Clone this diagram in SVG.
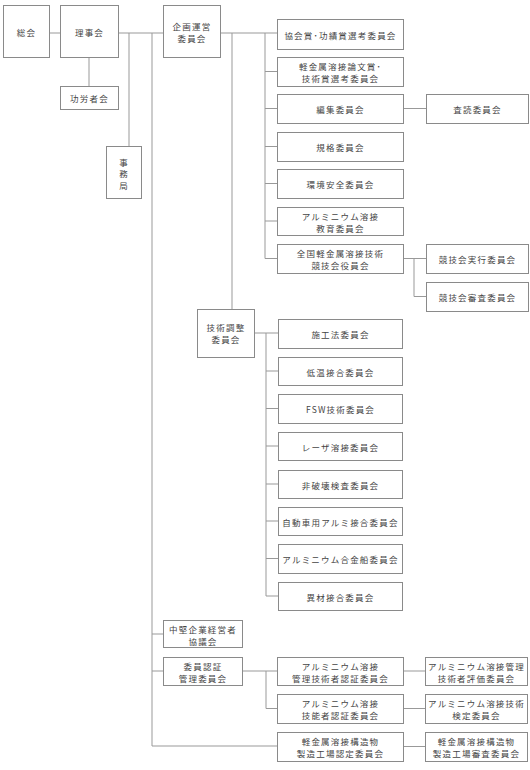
<svg xmlns="http://www.w3.org/2000/svg" width="530" height="770" viewBox="0 0 530 770">
<style>
.b{fill:#fff;stroke:#8a8a8a;stroke-width:1}
.t{font-family:"Noto Sans CJK JP","Noto Sans",sans-serif;font-size:8.5px;fill:#444;text-anchor:middle;dominant-baseline:central;letter-spacing:1.2px}
.c{fill:none;stroke:#999;stroke-width:1}
</style>
<rect width="530" height="770" fill="#fff"/>
<g id="connectors" class="c">
<path d="M49,33H60M89,57V86M118,33H163M129,33V146M152,33V746H277M152,634H163M152,671H163"/>
<path d="M220,33H277M265,33V258.5M265,71.5H277M265,108.5H277M265,146.5H277M265,183.5H277M265,221H277M265,258.5H277"/>
<path d="M232,33V309"/>
<path d="M254,333H278M266,333V596M266,371H278M266,408.5H278M266,446H278M266,484H278M266,521H278M266,558.5H278M266,596H278"/>
<path d="M403,108.5H426M403,258.5H426M414,258.5V296.5H426"/>
<path d="M242,671H277M266,671V708.5H277M403,671H425M403,708.5H425M403,746.5H425"/>
</g>
<g id="soukai"><rect class="b" x="3.5" y="5.5" width="46" height="52"/><text class="t" x="26.5" y="31.5">総会</text></g>
<g id="rijikai"><rect class="b" x="60.5" y="5.5" width="58" height="52"/><text class="t" x="89.5" y="31.5">理事会</text></g>
<g id="koroshakai"><rect class="b" x="60.5" y="86.5" width="58" height="23"/><text class="t" x="89.5" y="98">功労者会</text></g>
<g id="jimukyoku"><rect class="b" x="106.5" y="146.5" width="35" height="52"/><text class="t" x="124" y="162">事</text><text class="t" x="124" y="173">務</text><text class="t" x="124" y="184.5">局</text></g>
<g id="kikaku"><rect class="b" x="163.5" y="5.5" width="57" height="52"/><text class="t" x="192" y="26">企画運営</text><text class="t" x="192" y="38">委員会</text></g>
<g id="kyokaisho"><rect class="b" x="277.5" y="19.5" width="126" height="30"/><text class="t" x="340.5" y="34.5">協会賞･功績賞選考委員会</text></g>
<g id="ronbunsho"><rect class="b" x="277.5" y="57.5" width="126" height="29"/><text class="t" x="340.5" y="66">軽金属溶接論文賞･</text><text class="t" x="340.5" y="78">技術賞選考委員会</text></g>
<g id="henshu"><rect class="b" x="277.5" y="94.5" width="126" height="29"/><text class="t" x="340.5" y="109">編集委員会</text></g>
<g id="kikaku2"><rect class="b" x="277.5" y="132.5" width="126" height="29"/><text class="t" x="340.5" y="147">規格委員会</text></g>
<g id="kankyo"><rect class="b" x="277.5" y="169.5" width="126" height="29"/><text class="t" x="340.5" y="184">環境安全委員会</text></g>
<g id="kyoiku"><rect class="b" x="277.5" y="207.5" width="126" height="28"/><text class="t" x="340.5" y="215.5">アルミニウム溶接</text><text class="t" x="340.5" y="227.5">教育委員会</text></g>
<g id="zenkoku"><rect class="b" x="277.5" y="244.5" width="126" height="29"/><text class="t" x="340.5" y="253">全国軽金属溶接技術</text><text class="t" x="340.5" y="265">競技会役員会</text></g>
<g id="sadoku"><rect class="b" x="426.5" y="94.5" width="102" height="29"/><text class="t" x="477.5" y="109">査読委員会</text></g>
<g id="jikko"><rect class="b" x="426.5" y="244.5" width="102" height="29"/><text class="t" x="477.5" y="259">競技会実行委員会</text></g>
<g id="shinsa"><rect class="b" x="426.5" y="282.5" width="102" height="29"/><text class="t" x="477.5" y="297">競技会審査委員会</text></g>
<g id="gijutsu"><rect class="b" x="197.5" y="309.5" width="57" height="48"/><text class="t" x="226" y="327">技術調整</text><text class="t" x="226" y="339">委員会</text></g>
<g id="sekoho"><rect class="b" x="278.5" y="319.5" width="124" height="29"/><text class="t" x="340.5" y="334">施工法委員会</text></g>
<g id="teion"><rect class="b" x="278.5" y="357.5" width="124" height="28"/><text class="t" x="340.5" y="371.5">低温接合委員会</text></g>
<g id="fsw"><rect class="b" x="278.5" y="394.5" width="124" height="29"/><text class="t" x="340.5" y="409">FSW技術委員会</text></g>
<g id="laser"><rect class="b" x="278.5" y="432.5" width="124" height="28"/><text class="t" x="340.5" y="446.5">レーザ溶接委員会</text></g>
<g id="hihakai"><rect class="b" x="278.5" y="470.5" width="124" height="28"/><text class="t" x="340.5" y="484.5">非破壊検査委員会</text></g>
<g id="jidosha"><rect class="b" x="278.5" y="507.5" width="124" height="28"/><text class="t" x="340.5" y="521.5">自動車用アルミ接合委員会</text></g>
<g id="sempaku"><rect class="b" x="278.5" y="544.5" width="124" height="29"/><text class="t" x="340.5" y="559">アルミニウム合金船委員会</text></g>
<g id="izai"><rect class="b" x="278.5" y="582.5" width="124" height="28"/><text class="t" x="340.5" y="596.5">異材接合委員会</text></g>
<g id="chuken"><rect class="b" x="163.5" y="620.5" width="79" height="27"/><text class="t" x="203" y="628.5">中堅企業経営者</text><text class="t" x="203" y="640.5">協議会</text></g>
<g id="ninsho"><rect class="b" x="163.5" y="657.5" width="79" height="28"/><text class="t" x="203" y="665.5">委員認証</text><text class="t" x="203" y="677.5">管理委員会</text></g>
<g id="kanri"><rect class="b" x="277.5" y="657.5" width="126" height="28"/><text class="t" x="340.5" y="665.5">アルミニウム溶接</text><text class="t" x="340.5" y="677.5">管理技術者認証委員会</text></g>
<g id="ginosha"><rect class="b" x="277.5" y="694.5" width="126" height="29"/><text class="t" x="340.5" y="703">アルミニウム溶接</text><text class="t" x="340.5" y="715">技能者認証委員会</text></g>
<g id="kozobutsu"><rect class="b" x="277.5" y="732.5" width="126" height="29"/><text class="t" x="340.5" y="741">軽金属溶接構造物</text><text class="t" x="340.5" y="753">製造工場認定委員会</text></g>
<g id="hyoka"><rect class="b" x="425.5" y="657.5" width="102" height="28"/><text class="t" x="476.5" y="665.5">アルミニウム溶接管理</text><text class="t" x="476.5" y="677.5">技術者評価委員会</text></g>
<g id="kentei"><rect class="b" x="425.5" y="694.5" width="102" height="29"/><text class="t" x="476.5" y="703">アルミニウム溶接技術</text><text class="t" x="476.5" y="715">検定委員会</text></g>
<g id="kojoshinsa"><rect class="b" x="425.5" y="732.5" width="102" height="29"/><text class="t" x="476.5" y="741">軽金属溶接構造物</text><text class="t" x="476.5" y="753">製造工場審査委員会</text></g>
</svg>
